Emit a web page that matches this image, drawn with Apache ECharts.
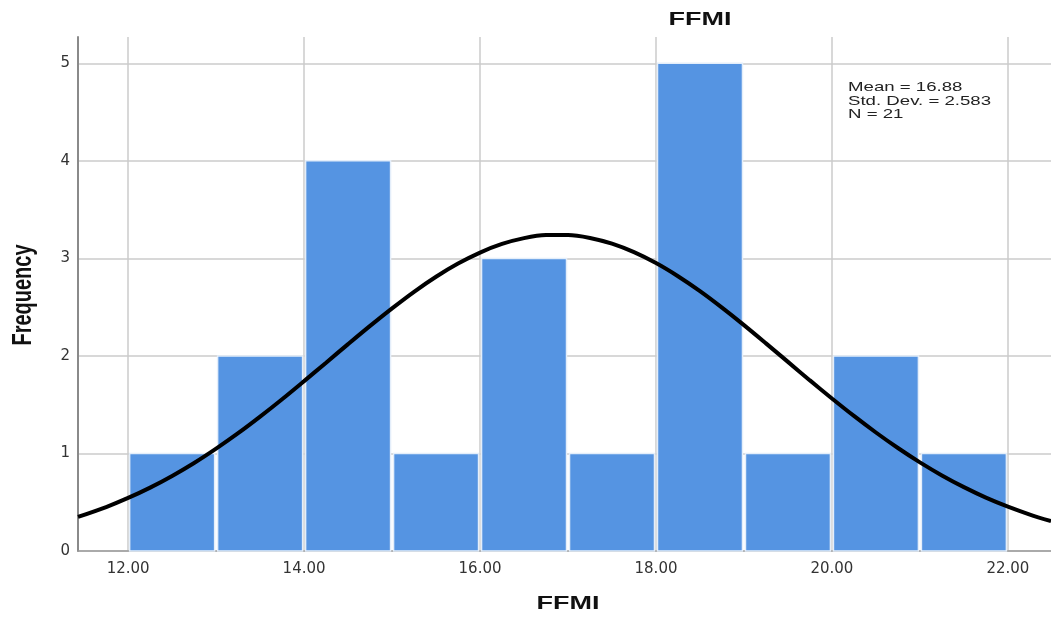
<!DOCTYPE html>
<html><head><meta charset="utf-8">
<script src="https://cdn.jsdelivr.net/npm/echarts@6/dist/echarts.min.js"></script>
<style>html,body{margin:0;padding:0;background:#fff}#c{width:1051px;height:619px}</style>
</head><body><div id="c"></div>
<script>
// Histogram bins (FFMI) and frequencies
const binStarts = [12, 13, 14, 15, 16, 17, 18, 19, 20, 21];
const binWidth = 1;
const frequencies = [1, 2, 4, 1, 3, 1, 5, 1, 2, 1];
// Normal curve
const curveX = [11.43, 11.75, 12, 12.25, 12.5, 12.75, 13, 13.25, 13.5, 13.75, 14, 14.25, 14.5, 14.75, 15, 15.25, 15.5, 15.75, 16, 16.25, 16.5, 16.75, 17, 17.25, 17.5, 17.75, 18, 18.25, 18.5, 18.75, 19, 19.25, 19.5, 19.75, 20, 20.25, 20.5, 20.75, 21, 21.25, 21.5, 21.75, 22, 22.25, 22.49];
const curveY = [0.350, 0.451, 0.544, 0.650, 0.770, 0.903, 1.050, 1.208, 1.378, 1.556, 1.742, 1.931, 2.121, 2.308, 2.488, 2.658, 2.812, 2.947, 3.060, 3.148, 3.208, 3.239, 3.240, 3.210, 3.151, 3.064, 2.952, 2.817, 2.664, 2.495, 2.316, 2.129, 1.939, 1.749, 1.564, 1.385, 1.215, 1.056, 0.909, 0.775, 0.655, 0.548, 0.455, 0.374, 0.306];
const xTicks = [12, 14, 16, 18, 20, 22];
const yTicks = [0, 1, 2, 3, 4, 5];
const titleText = 'FFMI';
const xName = 'FFMI';
const yName = 'Frequency';
const statsText = ['Mean = 16.88', 'Std. Dev. = 2.583', 'N = 21'];

const chart = echarts.init(document.getElementById('c'));
const font = 'Liberation Sans, Arial, sans-serif';
const tickFont = 'DejaVu Sans, sans-serif';
chart.setOption({
  animation: false,
  grid: {left: 78, right: 0, top: 37, bottom: 68, containLabel: false, outerBoundsMode: 'none'},
  xAxis: {
    type: 'value', min: 11.43, max: 22.49,
    axisLine: {show: true, lineStyle: {color: '#9a9a9a', width: 1.5}},
    axisTick: {show: false, customValues: xTicks},
    axisLabel: {customValues: xTicks, formatter: v => v.toFixed(2), fontFamily: tickFont, fontSize: 15, color: '#333', margin: 11},
    splitLine: {show: true, lineStyle: {color: '#cbcbcb', width: 1.5}}
  },
  yAxis: {
    type: 'value', min: 0, max: 5.27,
    axisLine: {show: true, lineStyle: {color: '#8a8a8a', width: 2}},
    axisTick: {show: false, customValues: yTicks},
    axisLabel: {customValues: yTicks, fontFamily: tickFont, fontSize: 15, color: '#333', margin: 8},
    splitLine: {show: true, lineStyle: {color: '#cbcbcb', width: 1.5}}
  },
  graphic: [{
    type: 'text', x: 700, y: 10, scaleX: 1.42,
    style: {text: titleText, font: 'bold 19px ' + font, fill: '#111', align: 'center', verticalAlign: 'top'}
  }, {
    type: 'text', x: 568, y: 594, scaleX: 1.42,
    style: {text: xName, font: 'bold 19px ' + font, fill: '#111', align: 'center', verticalAlign: 'top'}
  }, {
    type: 'text', x: 23, y: 295, rotation: Math.PI / 2, scaleY: 1.4,
    style: {text: yName, font: 'bold 20px ' + font, fill: '#111', align: 'center', verticalAlign: 'middle'}
  }, {
    type: 'text', x: 848, y: 81, scaleX: 1.38,
    style: {text: statsText.join('\n'), font: '13.5px ' + font, fill: '#222', lineHeight: 13.5, verticalAlign: 'top'}
  }],
  series: [{
    type: 'custom',
    data: binStarts.map((s, i) => [s, s + binWidth, frequencies[i]]),
    renderItem: (params, api) => {
      const p0 = api.coord([api.value(0), 0]);
      const p1 = api.coord([api.value(1), api.value(2)]);
      return {
        type: 'rect',
        shape: {x: p0[0] + 1.5, y: p1[1], width: p1[0] - p0[0] - 3, height: p0[1] - p1[1]},
        style: {fill: '#5594e2', stroke: '#e4eefa', lineWidth: 1.5}
      };
    },
    encode: {x: [0, 1], y: 2}, z: 2
  }, {
    type: 'line', smooth: 0.3, showSymbol: false, symbol: 'none',
    data: curveX.map((x, i) => [x, curveY[i]]),
    lineStyle: {color: '#000', width: 4}, z: 3
  }]
});
</script></body></html>
